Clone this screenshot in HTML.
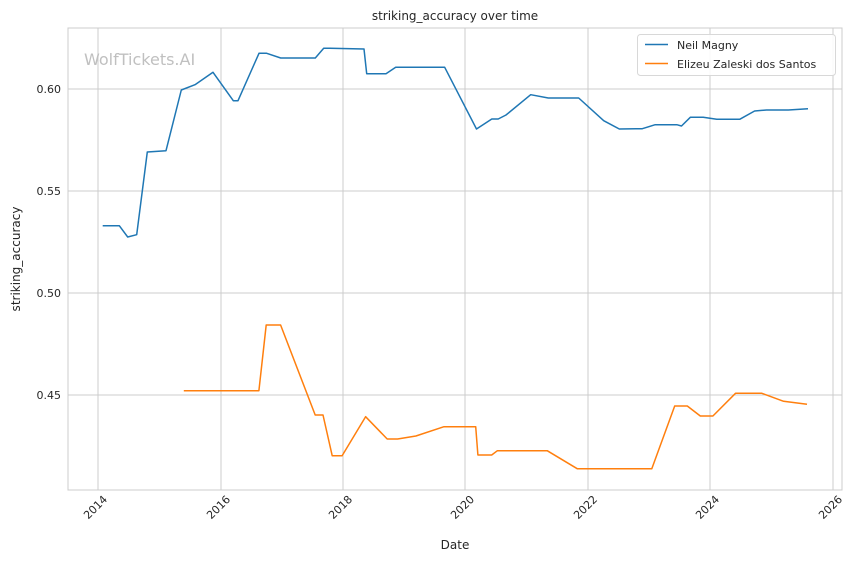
<!DOCTYPE html>
<html><head><meta charset="utf-8"><style>
body{margin:0;background:#fff;}
svg{display:block;font-family:"DejaVu Sans","Liberation Sans",sans-serif;}
</style></head><body>
<svg width="858" height="561" viewBox="0 0 858 561" xmlns="http://www.w3.org/2000/svg">
<rect width="858" height="561" fill="#fff"/>
<g stroke="#cccccc" stroke-width="1">
<line x1="98" y1="28" x2="98" y2="490"/>
<line x1="221" y1="28" x2="221" y2="490"/>
<line x1="343" y1="28" x2="343" y2="490"/>
<line x1="465" y1="28" x2="465" y2="490"/>
<line x1="588" y1="28" x2="588" y2="490"/>
<line x1="710" y1="28" x2="710" y2="490"/>
<line x1="833" y1="28" x2="833" y2="490"/>
<line x1="68" y1="89" x2="842" y2="89"/>
<line x1="68" y1="191" x2="842" y2="191"/>
<line x1="68" y1="293" x2="842" y2="293"/>
<line x1="68" y1="395" x2="842" y2="395"/>
</g>
<rect x="68" y="28" width="774" height="462" fill="none" stroke="#cccccc" stroke-width="1"/>
<text x="84" y="65" font-size="16" fill="#c0c0c0">WolfTickets.AI</text>
<polyline fill="none" stroke="#1f77b4" stroke-width="1.5" stroke-linejoin="round" points="102.7,225.7 119.3,225.7 127.7,237 136.7,234.7 147.3,152 166,150.7 181.3,90 195,84.7 213,72.3 233.3,100.7 238,100.7 259,53.3 266.7,53.3 280.7,58 315.3,58 323.7,48.3 330,48.3 364,49 366.7,73.7 386,73.7 395.7,67.3 444.7,67.3 476.5,129 491.8,119 498.2,119 506,115 530.7,94.7 548.3,98 578.7,98 603.7,120.7 619.3,129 642.3,128.7 655.2,124.7 676.8,124.7 681.5,126 690.3,117.3 703.2,117.3 716.7,119.3 739.7,119.3 754.6,111 766.5,110 788.4,110 808,108.7"/>
<polyline fill="none" stroke="#ff7f0e" stroke-width="1.5" stroke-linejoin="round" points="183.8,390.7 258.9,390.7 266.2,325 280.6,325 315.2,415 323,415 332.2,455.7 342.1,455.7 365.6,416.7 387.2,439 397.6,439 415.9,436 444,426.7 475.7,426.7 477.9,455 491.7,455 497.4,450.7 547.2,450.7 577.2,468.7 651.8,468.7 674.7,406 687.3,406 700.3,416 712.9,416 735.5,393.3 761.9,393.3 783.6,401.3 807,404.3"/>
<g font-size="11" fill="#262626" text-anchor="end">
<text x="61" y="93">0.60</text>
<text x="61" y="195">0.55</text>
<text x="61" y="297">0.50</text>
<text x="61" y="399">0.45</text>
</g>
<g font-size="11" fill="#262626" text-anchor="end">
<text transform="translate(108,500) rotate(-45)">2014</text>
<text transform="translate(231,500) rotate(-45)">2016</text>
<text transform="translate(353,500) rotate(-45)">2018</text>
<text transform="translate(475,500) rotate(-45)">2020</text>
<text transform="translate(598,500) rotate(-45)">2022</text>
<text transform="translate(720,500) rotate(-45)">2024</text>
<text transform="translate(843,500) rotate(-45)">2026</text>
</g>
<text x="455" y="549" font-size="12" fill="#262626" text-anchor="middle">Date</text>
<text transform="translate(20,259) rotate(-90)" font-size="12" fill="#262626" text-anchor="middle">striking_accuracy</text>
<text x="455" y="20" font-size="12" fill="#262626" text-anchor="middle">striking_accuracy over time</text>
<rect x="637.5" y="34.5" width="198" height="41" rx="3" fill="#fff" fill-opacity="0.85" stroke="#d8d8d8"/>
<line x1="645" y1="44.5" x2="668" y2="44.5" stroke="#1f77b4" stroke-width="1.5"/>
<line x1="645" y1="63.5" x2="668" y2="63.5" stroke="#ff7f0e" stroke-width="1.5"/>
<text x="677" y="49" font-size="11" fill="#262626">Neil Magny</text>
<text x="677" y="68" font-size="11" fill="#262626">Elizeu Zaleski dos Santos</text>
</svg>
</body></html>
